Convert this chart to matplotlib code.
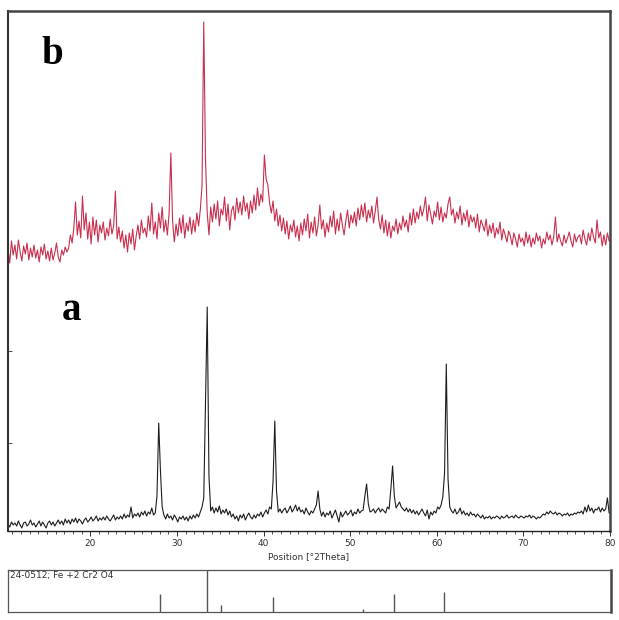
"""
XRD patterns: (a) FeCr2O4 sample, (b) second sample, with reference card 24-0512.
"""

import numpy as np
import matplotlib
matplotlib.use('Agg')
import matplotlib.pyplot as plt


# Scan grid: 10.5 .. 80.3 deg 2theta, 0.2 deg step (5 points per row below)
two_theta = np.round(np.arange(10.5, 80.4, 0.2), 1)

# Pattern a (black), intensity in arbitrary units
pattern_a = [
    7, 4, 9, 6, 8,          # 10.5
    5, 10, 6, 3, 8,         # 11.5
    9, 5, 7, 11, 6,         # 12.5
    8, 4, 7, 10, 5,         # 13.5
    9, 6, 3, 8, 10,         # 14.5
    6, 9, 5, 8, 11,         # 15.5
    7, 10, 6, 12, 8,        # 16.5
    11, 7, 12, 9, 13,       # 17.5
    8, 12, 10, 7, 11,       # 18.5
    13, 9, 11, 14, 10,      # 19.5
    12, 15, 10, 13, 11,     # 20.5
    14, 11, 15, 12, 10,     # 21.5
    13, 16, 11, 14, 12,     # 22.5
    15, 12, 17, 13, 16,     # 23.5
    14, 24, 13, 17, 15,     # 24.5
    18, 14, 19, 16, 20,     # 25.5
    15, 19, 17, 23, 16,     # 26.5
    18, 35, 108, 60, 24,    # 27.5
    16, 12, 17, 13, 15,     # 28.5
    11, 16, 13, 9, 14,      # 29.5
    12, 15, 11, 14, 10,     # 30.5
    15, 12, 16, 13, 17,     # 31.5
    14, 19, 24, 33, 130,    # 32.5
    224, 55, 20, 24, 18,    # 33.5
    23, 19, 25, 17, 21,     # 34.5
    18, 22, 16, 20, 14,     # 35.5
    17, 12, 15, 10, 16,     # 36.5
    13, 17, 11, 15, 18,     # 37.5
    14, 12, 16, 13, 17,     # 38.5
    15, 19, 14, 18, 21,     # 39.5
    17, 24, 22, 50, 110,    # 40.5
    40, 19, 22, 18, 21,     # 41.5
    23, 18, 21, 25, 19,     # 42.5
    22, 26, 20, 24, 19,     # 43.5
    21, 17, 23, 19, 16,     # 44.5
    20, 18, 22, 26, 40,     # 45.5
    22, 15, 19, 14, 18,     # 46.5
    16, 20, 13, 17, 21,     # 47.5
    15, 9, 19, 14, 17,      # 48.5
    20, 16, 18, 21, 15,     # 49.5
    19, 17, 22, 18, 20,     # 50.5
    21, 35, 47, 27, 19,     # 51.5
    20, 22, 18, 21, 23,     # 52.5
    19, 22, 20, 18, 24,     # 53.5
    22, 42, 65, 35, 23,     # 54.5
    26, 29, 24, 22, 20,     # 55.5
    23, 19, 22, 18, 21,     # 56.5
    17, 20, 16, 19, 22,     # 57.5
    18, 15, 21, 12, 19,     # 58.5
    16, 20, 18, 24, 22,     # 59.5
    26, 34, 58, 167, 52,    # 60.5
    24, 20, 18, 22, 17,     # 61.5
    19, 23, 17, 20, 16,     # 62.5
    18, 15, 19, 16, 17,     # 63.5
    14, 17, 15, 13, 16,     # 64.5
    12, 14, 13, 15, 12,     # 65.5
    14, 13, 15, 14, 12,     # 66.5
    15, 13, 14, 16, 13,     # 67.5
    14, 15, 13, 16, 14,     # 68.5
    13, 15, 14, 13, 15,     # 69.5
    14, 16, 13, 15, 14,     # 70.5
    12, 14, 13, 15, 17,     # 71.5
    16, 19, 17, 20, 18,     # 72.5
    17, 19, 16, 18, 17,     # 73.5
    15, 17, 16, 18, 15,     # 74.5
    17, 16, 18, 17, 19,     # 75.5
    18, 20, 17, 24, 19,     # 76.5
    26, 20, 23, 18, 22,     # 77.5
    21, 24, 19, 23, 20,     # 78.5
    22, 33, 18, 19, 20,     # 79.5
]

# Pattern b (red), same units, stacked above a
pattern_b = [
    282, 268, 290, 276, 286,    # 10.5
    272, 291, 279, 270, 285,    # 11.5
    277, 288, 271, 283, 274,    # 12.5
    286, 273, 281, 269, 284,    # 13.5
    276, 287, 272, 280, 270,    # 14.5
    283, 271, 278, 288, 274,    # 15.5
    269, 281, 276, 284, 279,    # 16.5
    283, 296, 288, 303, 329,    # 17.5
    296, 310, 293, 335, 301,    # 18.5
    318, 292, 309, 287, 314,    # 19.5
    296, 311, 289, 306, 298,    # 20.5
    309, 291, 303, 295, 312,    # 21.5
    297, 305, 340, 292, 304,    # 22.5
    289, 300, 283, 296, 279,    # 23.5
    298, 287, 302, 281, 295,    # 24.5
    306, 292, 311, 298, 303,    # 25.5
    294, 315, 300, 328, 297,    # 26.5
    309, 292, 318, 303, 324,    # 27.5
    299, 311, 296, 318, 378,    # 28.5
    310, 289, 307, 295, 313,    # 29.5
    298, 316, 293, 308, 300,    # 30.5
    314, 297, 311, 299, 318,    # 31.5
    305, 321, 345, 509, 372,    # 32.5
    318, 296, 324, 309, 327,    # 33.5
    312, 330, 305, 322, 316,    # 34.5
    334, 310, 327, 301, 320,    # 35.5
    325, 311, 333, 318, 329,    # 36.5
    316, 335, 320, 328, 312,    # 37.5
    330, 318, 336, 321, 343,    # 38.5
    325, 337, 329, 376, 352,    # 39.5
    346, 328, 318, 330, 310,    # 40.5
    322, 305, 316, 300, 313,    # 41.5
    297, 310, 292, 306, 299,    # 42.5
    311, 294, 305, 290, 308,    # 43.5
    296, 312, 300, 317, 293,    # 44.5
    309, 298, 314, 295, 306,    # 45.5
    326, 302, 311, 294, 308,    # 46.5
    299, 315, 304, 320, 297,    # 47.5
    312, 300, 318, 306, 296,    # 48.5
    310, 321, 303, 316, 308,    # 49.5
    319, 305, 323, 311, 326,    # 50.5
    314, 328, 309, 321, 313,    # 51.5
    325, 308, 320, 334, 311,    # 52.5
    302, 316, 298, 311, 295,    # 53.5
    309, 293, 305, 300, 312,    # 54.5
    297, 308, 301, 315, 304,    # 55.5
    311, 299, 318, 306, 322,    # 56.5
    308, 319, 312, 325, 315,    # 57.5
    322, 334, 310, 326, 317,    # 58.5
    307, 320, 314, 329, 311,    # 59.5
    324, 309, 318, 313, 327,    # 60.5
    334, 316, 322, 308, 319,    # 61.5
    312, 325, 306, 318, 310,    # 62.5
    321, 304, 316, 309, 314,    # 63.5
    303, 317, 299, 311, 306,    # 64.5
    300, 312, 295, 306, 298,    # 65.5
    308, 293, 303, 297, 309,    # 66.5
    291, 302, 296, 289, 300,    # 67.5
    295, 286, 298, 292, 284,    # 68.5
    297, 289, 293, 285, 299,    # 69.5
    288, 296, 284, 293, 287,    # 70.5
    298, 290, 295, 283, 292,    # 71.5
    287, 299, 291, 296, 286,    # 72.5
    294, 314, 289, 297, 290,    # 73.5
    285, 296, 288, 293, 299,    # 74.5
    290, 284, 297, 289, 294,    # 75.5
    296, 287, 301, 292, 286,    # 76.5
    298, 290, 303, 294, 288,    # 77.5
    311, 293, 299, 285, 296,    # 78.5
    286, 298, 290, 292, 288,    # 79.5
]

# Reference card 24-0512 (Fe+2 Cr2 O4): stick positions and relative intensities
ref_positions = [28.0, 33.4, 35.1, 41.0, 51.4, 55.0, 60.7]
ref_intensities = [43, 100, 17, 36, 7, 43, 48]
ref_label = "24-0512; Fe +2 Cr2 O4"

x_ticks = [20, 30, 40, 50, 60, 70, 80]
x_label = "Position [\u00b02Theta]"

W, H = 619, 620
fig = plt.figure(figsize=(W / 100, H / 100), dpi=100)

# Main pattern axes (pixel box 8..610 x 11..531)
ax = fig.add_axes([8 / W, (H - 531) / H, 602 / W, 520 / H])
ax.plot(two_theta, pattern_a, color='#1e1e1e', linewidth=0.8)
ax.plot(two_theta, pattern_b, color='#c8304f', linewidth=0.8)
ax.set_xlim(10.5, 80)
ax.set_ylim(0, 520)

ax.set_xticks(x_ticks)
ax.set_xticks(np.arange(11, 81, 1), minor=True)
ax.tick_params(axis='x', which='major', direction='out', length=3.5, width=0.7,
               labelsize=6.5, pad=2, colors='#333333')
ax.tick_params(axis='x', which='minor', direction='out', length=2.5, width=0.6,
               colors='#333333')
ax.set_yticks([88, 180])
ax.set_yticklabels([])
ax.tick_params(axis='y', direction='in', length=3, width=0.6, colors='#333333')
ax.set_xlabel(x_label, fontsize=6.5, color='#333333', labelpad=3)

for side in ['top', 'right']:
    ax.spines[side].set_linewidth(1.8)
    ax.spines[side].set_color('#444444')
ax.spines['left'].set_linewidth(1.5)
ax.spines['left'].set_color('#333333')
ax.spines['bottom'].set_linewidth(1.0)
ax.spines['bottom'].set_color('#222222')

ax.text(0.073, 0.917, 'b', transform=ax.transAxes, ha='center', va='center',
        fontsize=28, fontweight='bold', family='Liberation Serif')
ax.text(0.106, 0.425, 'a', transform=ax.transAxes, ha='center', va='center',
        fontsize=28, fontweight='bold', family='Liberation Serif')

# Reference stick pattern (pixel box 8..611 x 570..612)
ref_ax = fig.add_axes([8 / W, (H - 612) / H, 603 / W, 42 / H])
ref_ax.vlines(ref_positions, 0, ref_intensities, color='#555555', linewidth=1.0)
ref_ax.set_xlim(10.5, 80)
ref_ax.set_ylim(0, 100)
ref_ax.set_xticks([])
ref_ax.set_yticks([])
ref_ax.text(0.003, 0.97, ref_label, transform=ref_ax.transAxes, ha='left', va='top',
            fontsize=6.5, color='#333333')
for side in ['top', 'left', 'bottom']:
    ref_ax.spines[side].set_linewidth(0.9)
    ref_ax.spines[side].set_color('#555555')
ref_ax.spines['right'].set_linewidth(1.8)
ref_ax.spines['right'].set_color('#444444')

fig.savefig('out.png', dpi=100)
plt.close(fig)
